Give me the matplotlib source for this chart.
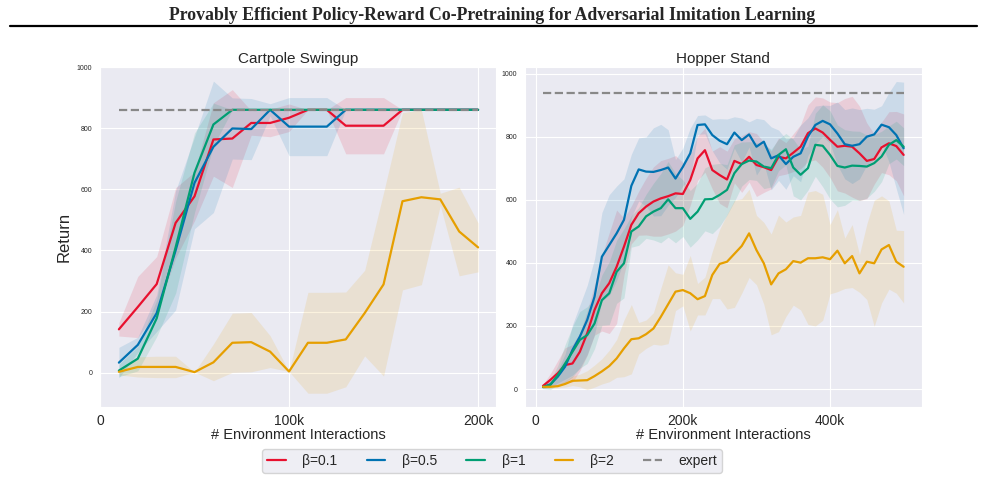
import numpy as np
import matplotlib
matplotlib.use("Agg")
import matplotlib.pyplot as plt
import seaborn as sns
from matplotlib.lines import Line2D

# --- data (x in environment interactions) ---
cart_x = [10000, 20000, 30000, 40000, 50000, 60000, 70000, 80000, 90000, 100000,
          110000, 120000, 130000, 140000, 150000, 160000, 170000, 180000, 190000, 200000]
cart_b01 = [142, 215, 290, 490, 577, 763, 766, 817, 817, 834, 860, 860, 808, 808, 808, 860, 860, 860, 860, 860]
cart_b01_sd = [22, 100, 90, 115, 80, 120, 160, 40, 45, 45, 0, 0, 92, 92, 92, 0, 0, 0, 0, 0]
cart_b05 = [33, 91, 195, 400, 621, 739, 799, 797, 860, 805, 805, 805, 860, 860, 860, 860, 860, 860, 860, 860]
cart_b05_sd = [50, 25, 60, 195, 150, 215, 100, 100, 20, 95, 95, 95, 0, 0, 0, 0, 0, 0, 0, 0]
cart_b1 = [7, 46, 178, 410, 654, 812, 860, 860, 860, 860, 860, 860, 860, 860, 860, 860, 860, 860, 860, 860]
cart_b1_sd = [20, 40, 60, 150, 130, 70, 0, 0, 0, 0, 0, 0, 0, 0, 0, 0, 0, 0, 0, 0]
cart_b2 = [3, 19, 19, 19, 2, 34, 98, 100, 69, 4, 98, 98, 109, 195, 289, 561, 574, 567, 462, 410]
cart_b2_sd = [10, 33, 35, 35, 0, 60, 97, 97, 52, 0, 165, 165, 155, 140, 300, 290, 286, 20, 145, 80]
cart_expert = 860

hop_x = [10000, 20000, 30000, 40000, 50000, 60000, 70000, 80000, 90000, 100000,
         110000, 120000, 130000, 140000, 150000, 160000, 170000, 180000, 190000, 200000,
         210000, 220000, 230000, 240000, 250000, 260000, 270000, 280000, 290000, 300000,
         310000, 320000, 330000, 340000, 350000, 360000, 370000, 380000, 390000, 400000,
         410000, 420000, 430000, 440000, 450000, 460000, 470000, 480000, 490000, 500000]
hop_b01 = [10, 29, 50, 76, 81, 118, 177, 251, 304, 336, 388, 452, 521, 558, 579, 595, 605, 612, 621, 619,
           663, 732, 758, 695, 679, 665, 724, 714, 737, 711, 704, 695, 737, 732, 750, 769, 812, 827, 814, 791,
           769, 772, 769, 748, 724, 730, 767, 780, 771, 743]
hop_b01_sd = [5, 20, 40, 55, 60, 60, 70, 80, 120, 160, 180, 90, 60, 70, 90, 110, 120, 120, 120, 100,
              80, 70, 70, 60, 90, 90, 70, 90, 80, 100, 80, 60, 60, 50, 60, 70, 90, 100, 110, 120,
              140, 150, 160, 150, 120, 80, 80, 100, 110, 130]
hop_b05 = [6, 15, 39, 71, 124, 166, 219, 293, 420, 457, 494, 537, 645, 697, 690, 689, 695, 703, 668, 705,
           748, 838, 840, 806, 788, 777, 814, 790, 808, 769, 785, 732, 742, 714, 737, 748, 801, 838, 851, 840,
           811, 777, 772, 777, 801, 808, 839, 831, 806, 764]
hop_b05_sd = [5, 10, 20, 40, 80, 100, 110, 120, 140, 160, 150, 130, 100, 100, 110, 140, 145, 120, 60, 60,
              80, 30, 30, 50, 70, 80, 50, 70, 40, 90, 70, 100, 80, 80, 60, 90, 60, 60, 50, 60,
              100, 110, 120, 110, 90, 80, 60, 110, 170, 210]
hop_b1 = [6, 13, 44, 81, 118, 156, 171, 208, 282, 304, 372, 399, 500, 516, 548, 563, 574, 602, 574, 574,
          540, 563, 602, 603, 616, 632, 685, 714, 725, 722, 706, 701, 743, 761, 703, 680, 701, 775, 772, 743,
          708, 703, 709, 708, 706, 717, 738, 775, 790, 769]
hop_b1_sd = [5, 15, 30, 60, 80, 90, 90, 80, 80, 100, 100, 110, 50, 60, 70, 90, 110, 120, 110, 90,
             90, 90, 100, 110, 100, 80, 90, 70, 60, 60, 70, 60, 50, 50, 90, 80, 70, 100, 130, 140,
             130, 120, 110, 110, 100, 90, 80, 60, 60, 60]
hop_b2 = [7, 7, 9, 16, 26, 27, 28, 41, 56, 73, 97, 129, 158, 161, 174, 192, 229, 269, 309, 314,
          304, 285, 295, 362, 397, 404, 429, 454, 494, 441, 399, 332, 367, 380, 406, 401, 415, 415, 418, 412,
          439, 399, 422, 367, 404, 399, 443, 457, 404, 388]
hop_b2_sd = [5, 5, 5, 10, 15, 20, 30, 35, 40, 50, 60, 90, 110, 50, 45, 50, 90, 125, 60, 50,
             120, 50, 60, 75, 110, 150, 170, 150, 140, 110, 130, 160, 185, 150, 140, 150, 210, 215, 200, 110,
             130, 80, 100, 60, 120, 200, 170, 140, 100, 115]
hop_expert = 940

labels = ["β=0.1", "β=0.5", "β=1", "β=2"]
colors = ["#e8102e", "#0072B2", "#009E73", "#E69F00"]

sns.set_style("darkgrid")
plt.rcParams["font.family"] = ["Liberation Sans", "DejaVu Sans"]


def draw_panel(ax, x, series, expert, title, xticks, xticklabels):
    x = np.array(x)
    for (mean, sd), c, lab in zip(series, colors, labels):
        mean = np.array(mean)
        sd = np.array(sd)
        ax.fill_between(x, mean - sd, mean + sd, color=c, alpha=0.13, linewidth=0)
        ax.plot(x, mean, color=c, lw=1.6, label=lab)
    ax.plot([x[0], x[-1]], [expert, expert], color="#888888", lw=1.6, ls="--", label="expert")
    ax.set_title(title, fontsize=11, pad=3)
    ax.set_xlabel("# Environment Interactions", fontsize=10.5, labelpad=0)
    ax.set_xticks(xticks)
    ax.set_xticklabels(xticklabels, fontsize=10)
    ax.set_yticks([0, 200, 400, 600, 800, 1000])
    ax.tick_params(axis="y", labelsize=5, pad=2)
    ax.tick_params(axis="x", pad=1)


fig = plt.figure(figsize=(9.85, 4.8), dpi=100)
ax1 = fig.add_axes([0.1015, 0.1515, 0.4021, 0.7089])
ax2 = fig.add_axes([0.533, 0.1515, 0.4027, 0.7089])

draw_panel(ax1, cart_x,
           [(cart_b01, cart_b01_sd), (cart_b05, cart_b05_sd), (cart_b1, cart_b1_sd), (cart_b2, cart_b2_sd)],
           cart_expert, "Cartpole Swingup", [0, 100000, 200000], ["0", "100k", "200k"])
ax1.set_xlim(0, 209500)
ax1.set_ylim(-113, 1000)
ax1.set_ylabel("Return", fontsize=12)

draw_panel(ax2, hop_x,
           [(hop_b01, hop_b01_sd), (hop_b05, hop_b05_sd), (hop_b1, hop_b1_sd), (hop_b2, hop_b2_sd)],
           hop_expert, "Hopper Stand", [0, 200000, 400000], ["0", "200k", "400k"])
ax2.set_xlim(-14500, 524500)
ax2.set_ylim(-58, 1022)

fig.text(0.5, 0.968, "Provably Efficient Policy-Reward Co-Pretraining for Adversarial Imitation Learning",
         ha="center", va="center", fontsize=12.8, fontweight="bold", family="Liberation Serif")
fig.add_artist(Line2D([0.01, 0.992], [0.946, 0.946], color="black", lw=1.6, transform=fig.transFigure))

handles, labs = ax1.get_legend_handles_labels()
leg = fig.legend(handles, labs, loc="center", bbox_to_anchor=(0.4995, 0.04), ncol=5, fontsize=10,
                 frameon=True, columnspacing=2.1, handlelength=1.35, handletextpad=1.2,
                 borderpad=0.35)
leg.get_frame().set_facecolor("#EAEAF2")
leg.get_frame().set_edgecolor("#cccccc")

fig.savefig("out.png", dpi=100)
